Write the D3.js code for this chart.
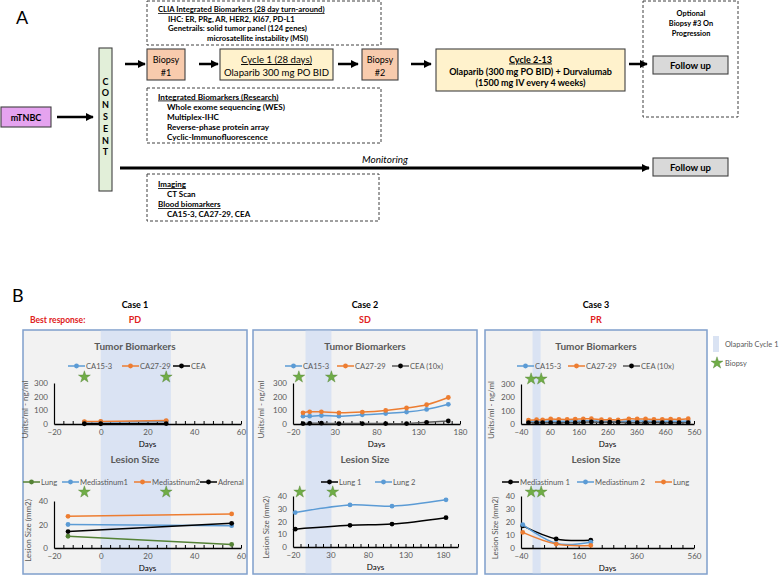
<!DOCTYPE html>
<html>
<head>
<meta charset="utf-8">
<script src="https://cdn.jsdelivr.net/npm/d3@7"></script>
<style>
  body { margin: 0; background: #fff; }
  svg { font-family: Lato, "Open Sans", sans-serif; }
</style>
</head>
<body>
<svg id="fig" width="780" height="575"></svg>
<script>
"use strict";

// ---- panel A texts ----
const cliaLines = ["CLIA Integrated Biomarkers (28 day turn-around)", "IHC: ER, PRg, AR, HER2, KI67, PD-L1",
    "Genetrails: solid tumor panel (124 genes)", "microsatellite instability (MSI)"];
const researchLines = ["Integrated Biomarkers (Research)", "Whole exome sequencing (WES)", "Multiplex-IHC",
    "Reverse-phase protein array", "Cyclic-Immunofluorescence"];
const monitorLines = ["Imaging", "CT Scan", "Blood biomarkers", "CA15-3, CA27-29, CEA"];
const optionalLines = ["Optional", "Biopsy #3 On", "Progression"];
const consentLetters = ["C", "O", "N", "S", "E", "N", "T"];

// ---- panel B data (days, values) ----
const caseNames = ["Case 1", "Case 2", "Case 3"];
const bestResponse = ["PD", "SD", "PR"];

const case1Days = [-7, 0, 28];
const case1CA153 = [14, 15, 20];
const case1CA2729 = [18, 19, 25];
const case1CEA = [2, 2, 3];
const case1LesionDays = [-14, 56];
const case1Lung = [10, 3];
const case1Med1 = [20, 19];
const case1Med2 = [27, 29];
const case1Adrenal = [14, 21];
const case1Cycle = [0, 30];
const case1Biopsy = [-7, 28];

const case2Days = [-8, 0, 14, 35, 63, 91, 116, 140, 166];
const case2CA153 = [57, 57, 62, 57, 67, 77, 87, 107, 144];
const case2CA2729 = [82, 89, 89, 82, 87, 99, 117, 141, 194];
const case2CEA = [3, 5, 6, 3, 3, 3, 3, 12, 22];
const case2LesionDays = [-17, 56, 112, 184];
const case2Lung1 = [14, 17, 18, 23];
const case2Lung2 = [27, 33, 32, 37];
const case2Cycle = [-5, 26];
const case2Biopsy = [-13, 26];
const case2LesionBiopsy = [-11, 33];

const case3Days = [-14, 14, 35, 63, 91, 120, 148, 176, 204, 239, 268, 297, 334, 363, 392, 421, 450, 479, 508, 540];
const case3CA153 = [18, 20, 19, 22, 21, 21, 22, 23, 24, 20, 20, 19, 22, 22, 22, 21, 21, 22, 21, 23];
const case3CA2729 = [28, 32, 30, 38, 35, 34, 36, 38, 40, 32, 32, 30, 38, 38, 38, 34, 35, 36, 34, 40];
const case3CEA = [10, 10, 10, 10, 10, 10, 10, 14, 15, 12, 14, 14, 10, 10, 10, 12, 10, 10, 10, 10];
const case3LesionDays = [-34, 82, 202];
const case3Med1 = [17, 7, 6];
const case3Med2 = [18, 3.5, 4.5];
const case3Lung = [12, 3, 2];
const case3Cycle = [0, 28];
const case3Biopsy = [-5, 30];

const BLUE = "#5b9bd5", ORANGE = "#ed7d31", GREEN = "#548235", GRAY = "#595959";

const svg = d3.select("#fig");
const defs = svg.append("defs");
defs.append("marker").attr("id", "arrow")
    .attr("viewBox", "0 0 10 10").attr("refX", 9).attr("refY", 5)
    .attr("markerWidth", 8).attr("markerHeight", 8)
    .attr("markerUnits", "userSpaceOnUse").attr("orient", "auto")
    .append("path").attr("d", "M0,0L10,5L0,10z").attr("fill", "#000");

// ================= PANEL A =================
const rect = (x, y, w, h, fill, dashed) => svg.append("rect")
    .attr("x", x).attr("y", y).attr("width", w).attr("height", h)
    .attr("fill", fill).attr("stroke", "#404040")
    .attr("stroke-width", dashed ? 1 : 1.1)
    .attr("stroke-dasharray", dashed ? "3,2" : null);

const text = (x, y, t, o = {}) => svg.append("text")
    .attr("x", x).attr("y", y).text(t)
    .attr("font-size", o.size || 8)
    .attr("font-weight", o.weight || "bold")
    .attr("font-style", o.style || null)
    .attr("fill", o.fill || "#000")
    .attr("text-anchor", o.anchor || "start")
    .attr("text-decoration", o.underline ? "underline" : null);

const arrow = (x1, y1, x2, y2, w) => svg.append("line")
    .attr("x1", x1).attr("y1", y1).attr("x2", x2).attr("y2", y2)
    .attr("stroke", "#000").attr("stroke-width", w || 2.5)
    .attr("marker-end", "url(#arrow)");

text(16, 24, "A", { size: 18, weight: "normal" });

// dashed info boxes
rect(147, 1, 234, 44, "none", true);
const cliaX = [158, 168, 168, 207];
cliaLines.forEach((t, i) => text(cliaX[i], 12 + i * 9.7, t, { size: 7.7, underline: i === 0 }));

rect(147, 88, 234, 55, "none", true);
researchLines.forEach((t, i) => text(i ? 167 : 158, 99.5 + i * 10, t, { size: 8.2, underline: i === 0 }));

rect(147, 174, 232, 47, "none", true);
monitorLines.forEach((t, i) => text(i % 2 ? 167 : 158, 187 + i * 10, t, { size: 8, underline: i % 2 === 0 }));

rect(643, 1, 95, 116, "none", true);
optionalLines.forEach((t, i) => text(691, 16 + i * 10, t, { size: 7.4, anchor: "middle" }));

// solid boxes
rect(1, 107, 50, 20, "#e5a3ef");
text(26, 120.5, "mTNBC", { size: 9, anchor: "middle" });

rect(99, 48, 13, 143, "#e2efd9");
consentLetters.forEach((t, i) => text(105.5, 84.5 + i * 11.8, t, { size: 9, anchor: "middle" }));

rect(147, 49, 38, 31, "#f8cbad");
text(166, 63, "Biopsy", { size: 9, weight: "normal", anchor: "middle" });
text(166, 75.5, "#1", { size: 9, weight: "normal", anchor: "middle" });

rect(220, 49, 113, 31, "#fff2cc");
text(276.5, 63, "Cycle 1 (28 days)", { size: 9.6, weight: "normal", anchor: "middle", underline: true });
text(276.5, 75.5, "Olaparib  300 mg PO BID", { size: 9.6, weight: "normal", anchor: "middle" });

rect(362, 49, 36, 31, "#f8cbad");
text(380, 63, "Biopsy", { size: 9, weight: "normal", anchor: "middle" });
text(380, 75.5, "#2", { size: 9, weight: "normal", anchor: "middle" });

rect(436, 49, 189, 42, "#fff2cc");
text(530.5, 62.5, "Cycle 2-13", { size: 9, anchor: "middle", underline: true });
text(530.5, 74.5, "Olaparib (300 mg PO BID) + Durvalumab", { size: 9, anchor: "middle" });
text(530.5, 86, "(1500 mg IV every 4 weeks)", { size: 9, anchor: "middle" });

rect(653, 56, 75, 18, "#d9d9d9");
text(690.5, 68.5, "Follow up", { size: 9.5, anchor: "middle" });
rect(653, 158, 75, 18, "#d9d9d9");
text(690.5, 171, "Follow up", { size: 9.5, anchor: "middle" });

// arrows
arrow(57, 117, 93, 117);
arrow(125, 64, 145, 64);
arrow(199, 64, 218, 64);
arrow(338, 64, 358, 64);
arrow(411, 64, 431, 64);
arrow(629, 64, 647, 64);
arrow(120, 168, 649, 168, 3);
text(385, 163, "Monitoring", { size: 10, weight: "normal", style: "italic", anchor: "middle" });

// ================= PANEL B =================
text(12, 302, "B", { size: 18, weight: "normal" });
text(30, 323, "Best response:", { size: 8.5, fill: "#e02020" });

const panels = [{ x0: 23, x1: 247 }, { x0: 253, x1: 477 }, { x0: 485, x1: 707 }];
const panelTop = 330, panelBottom = 574;

panels.forEach((p, i) => {
    const cx = (p.x0 + p.x1) / 2;
    text(cx, 308, caseNames[i], { size: 9, anchor: "middle" });
    text(cx, 323, bestResponse[i], { size: 9, anchor: "middle", fill: "#e02020" });
    rect(p.x0, panelTop, p.x1 - p.x0, panelBottom - panelTop, "#f2f2f2")
        .attr("stroke", "#7f9fcb").attr("stroke-width", 1.5);
});

const star = d3.symbol().type(d3.symbolStar).size(44);

const charts = [
    { panel: 0, xDomain: [-20, 60], xRange: [54, 241], xTicks: [-20, 0, 20, 40, 60], minor: 4,
      yDomain: [0, 300], yRange: [424, 383], yTicks: [0, 100, 200, 300],
      title: "Tumor Biomarkers", titleY: 350, legendY: 366, legendX: [68, 122, 173],
      starY: 377, stars: case1Biopsy, band: case1Cycle, yLabel: "Units/ml - ng/ml", yLabelX: 28, curve: d3.curveLinear,
      series: [
          { name: "CA15-3", color: BLUE, days: case1Days, values: case1CA153 },
          { name: "CA27-29", color: ORANGE, days: case1Days, values: case1CA2729 },
          { name: "CEA", color: "#000", line: "#000", days: case1Days, values: case1CEA }] },
    { panel: 0, xDomain: [-20, 60], xRange: [54, 241], xTicks: [-20, 0, 20, 40, 60], minor: 4,
      yDomain: [0, 40], yRange: [548, 501], yTicks: [0, 20, 40],
      title: "Lesion Size", titleY: 463, legendY: 482, legendX: [23, 62, 134, 200],
      starY: 492, stars: case1Biopsy, yLabel: "Lesion Size (mm2)", yLabelX: 31, curve: d3.curveLinear,
      series: [
          { name: "Lung", color: GREEN, days: case1LesionDays, values: case1Lung },
          { name: "Mediastinum1", color: BLUE, days: case1LesionDays, values: case1Med1 },
          { name: "Mediastinum2", color: ORANGE, days: case1LesionDays, values: case1Med2 },
          { name: "Adrenal", color: "#000", days: case1LesionDays, values: case1Adrenal }] },
    { panel: 1, xDomain: [-20, 180], xRange: [293, 460], xTicks: [-20, 30, 80, 130, 180], minor: 10,
      yDomain: [0, 300], yRange: [424, 383], yTicks: [0, 100, 200, 300],
      title: "Tumor Biomarkers", titleY: 350, legendY: 366, legendX: [285, 337, 392],
      starY: 377, stars: case2Biopsy, band: case2Cycle, yLabel: "Units/ml - ng/ml", yLabelX: 264, curve: d3.curveCatmullRom,
      series: [
          { name: "CA15-3", color: BLUE, days: case2Days, values: case2CA153 },
          { name: "CA27-29", color: ORANGE, days: case2Days, values: case2CA2729 },
          { name: "CEA (10x)", color: "#000", line: GRAY, days: case2Days, values: case2CEA }] },
    { panel: 1, xDomain: [-20, 200], xRange: [293, 458], xTicks: [-20, 30, 80, 130, 180], minor: 10,
      yDomain: [0, 40], yRange: [547, 496], yTicks: [0, 10, 20, 30, 40],
      title: "Lesion Size", titleY: 463, legendY: 482, legendX: [321, 375],
      starY: 492, stars: case2LesionBiopsy, yLabel: "Lesion Size (mm2)", yLabelX: 269, curve: d3.curveCatmullRom,
      series: [
          { name: "Lung 1", color: "#000", days: case2LesionDays, values: case2Lung1 },
          { name: "Lung 2", color: BLUE, days: case2LesionDays, values: case2Lung2 }] },
    { panel: 2, xDomain: [-40, 560], xRange: [521, 694], xTicks: [-40, 60, 160, 260, 360, 460, 560], minor: 20,
      yDomain: [0, 300], yRange: [424, 384], yTicks: [0, 100, 200, 300],
      title: "Tumor Biomarkers", titleY: 350, legendY: 366, legendX: [517, 568, 623],
      starY: 379, stars: case3Biopsy, band: case3Cycle, yLabel: "Units/ml - ng/ml", yLabelX: 494, curve: d3.curveCatmullRom,
      series: [
          { name: "CA15-3", color: BLUE, days: case3Days, values: case3CA153 },
          { name: "CA27-29", color: ORANGE, days: case3Days, values: case3CA2729 },
          { name: "CEA (10x)", color: "#000", line: GRAY, days: case3Days, values: case3CEA }] },
    { panel: 2, xDomain: [-40, 560], xRange: [521, 694], xTicks: [-40, 160, 360, 560], minor: 40,
      yDomain: [0, 40], yRange: [548, 496], yTicks: [0, 10, 20, 30, 40],
      title: "Lesion Size", titleY: 463, legendY: 482, legendX: [502, 577, 655],
      starY: 492, stars: case3Biopsy, yLabel: "Lesion Size (mm2)", yLabelX: 498, curve: d3.curveCatmullRom,
      series: [
          { name: "Mediastinum 1", color: "#000", days: case3LesionDays, values: case3Med1 },
          { name: "Mediastinum 2", color: BLUE, days: case3LesionDays, values: case3Med2 },
          { name: "Lung", color: ORANGE, days: case3LesionDays, values: case3Lung }] }
];

// cycle bands behind everything in each panel
charts.filter(c => c.band).forEach(c => {
    const x = d3.scaleLinear().domain(c.xDomain).range(c.xRange);
    svg.append("rect")
        .attr("x", x(c.band[0])).attr("y", panelTop + 0.75)
        .attr("width", x(c.band[1]) - x(c.band[0]))
        .attr("height", panelBottom - panelTop - 1.5)
        .attr("fill", "#dae3f3");
});

charts.forEach(c => {
    const p = panels[c.panel];
    const cx = (p.x0 + p.x1) / 2;
    const x = d3.scaleLinear().domain(c.xDomain).range(c.xRange);
    const y = d3.scaleLinear().domain(c.yDomain).range(c.yRange);
    const g = svg.append("g");

    g.append("text").attr("x", cx).attr("y", c.titleY).attr("text-anchor", "middle")
        .attr("font-size", 10).attr("font-weight", "bold").attr("fill", GRAY).text(c.title);

    // legend
    c.series.forEach((s, i) => {
        const lx = c.legendX[i];
        g.append("line").attr("x1", lx).attr("x2", lx + 17).attr("y1", c.legendY).attr("y2", c.legendY)
            .attr("stroke", s.line || s.color).attr("stroke-width", 1.5);
        g.append("circle").attr("cx", lx + 8.5).attr("cy", c.legendY).attr("r", 2.4).attr("fill", s.color);
        g.append("text").attr("x", lx + 18).attr("y", c.legendY + 3).attr("font-size", 7.6)
            .attr("fill", GRAY).text(s.name);
    });

    // biopsy stars
    g.selectAll(".star").data(c.stars).join("path")
        .attr("d", star).attr("transform", d => `translate(${x(d)},${c.starY})`)
        .attr("fill", "#70ad47").attr("stroke", "#548235").attr("stroke-width", 0.4);

    // axes
    const y0 = c.yRange[0];
    const minorTicks = d3.range(c.xDomain[0], c.xDomain[1] + 0.001, c.minor);
    g.append("g").attr("transform", `translate(0,${y0})`)
        .call(d3.axisTop(x).tickValues(minorTicks).tickSize(3).tickSizeOuter(0).tickFormat(""))
        .call(a => a.select(".domain").remove())
        .call(a => a.selectAll("line").attr("stroke", "#000"));
    g.append("g").attr("transform", `translate(0,${y0})`)
        .call(d3.axisBottom(x).tickValues(c.xTicks).tickSize(0).tickPadding(5).tickFormat(d3.format("d")))
        .call(a => a.select(".domain").attr("stroke", "#000").attr("stroke-width", 1.4))
        .call(a => a.selectAll("text").attr("font-size", 8).attr("fill", GRAY).attr("font-family", "Lato"));
    g.append("g").attr("transform", `translate(${c.xRange[0]},0)`)
        .call(d3.axisLeft(y).tickValues(c.yTicks).tickSize(0).tickPadding(6))
        .call(a => a.select(".domain").attr("stroke", "#000").attr("stroke-width", 1.2))
        .call(a => a.selectAll("text").attr("font-size", 8).attr("fill", GRAY).attr("font-family", "Lato"));

    g.append("text").attr("x", (c.xRange[0] + c.xRange[1]) / 2).attr("y", y0 + 23)
        .attr("text-anchor", "middle").attr("font-size", 8).attr("fill", "#000").text("Days");
    g.append("text").attr("transform", `translate(${c.yLabelX},${(c.yRange[0] + c.yRange[1]) / 2 + 6}) rotate(-90)`)
        .attr("text-anchor", "middle").attr("font-size", 8).attr("fill", GRAY).text(c.yLabel);

    // series
    c.series.forEach(s => {
        const pts = s.days.map((d, i) => [d, s.values[i]]);
        g.append("path").attr("d", d3.line().x(d => x(d[0])).y(d => y(d[1])).curve(c.curve)(pts))
            .attr("fill", "none").attr("stroke", s.line || s.color).attr("stroke-width", 1.5);
        g.selectAll(null).data(pts).join("circle")
            .attr("cx", d => x(d[0])).attr("cy", d => y(d[1])).attr("r", 2.4).attr("fill", s.color);
    });
});

// right-hand legend
svg.append("rect").attr("x", 713).attr("y", 336).attr("width", 6).attr("height", 16).attr("fill", "#dae3f3");
text(725, 347, "Olaparib Cycle 1", { size: 7.4, weight: "normal", fill: GRAY });
svg.append("path").attr("d", star).attr("transform", "translate(717,363)")
    .attr("fill", "#70ad47").attr("stroke", "#548235").attr("stroke-width", 0.4);
text(725, 366, "Biopsy", { size: 7.4, weight: "normal", fill: GRAY });
</script>
</body>
</html>
